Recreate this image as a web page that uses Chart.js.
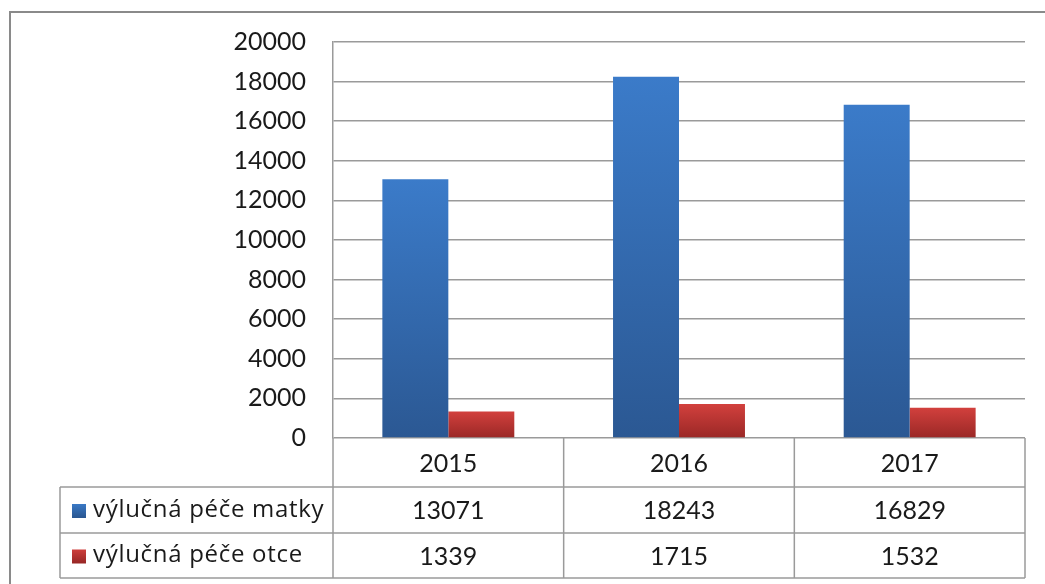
<!DOCTYPE html>
<html>
<head>
<meta charset="utf-8">
<script src="https://cdn.jsdelivr.net/npm/chart.js@4/dist/chart.umd.min.js"></script>
<style>
  html, body { margin: 0; padding: 0; background: #fff; }
  #wrap { width: 1045px; height: 584px; position: relative; }
</style>
</head>
<body>
<div id="wrap"><canvas id="c" width="1045" height="584"></canvas></div>
<script>
const years = ['2015', '2016', '2017'];
const seriesNames = ['výlučná péče matky', 'výlučná péče otce'];
const matka = [13071, 18243, 16829];
const otce = [1339, 1715, 1532];
const yTicks = [0, 2000, 4000, 6000, 8000, 10000, 12000, 14000, 16000, 18000, 20000];

const FONT = 'Lato, "Open Sans", sans-serif';
const LEGEND_FONT = '"Open Sans", Lato, sans-serif';
const BLUE = ['#3b7bc9', '#2b5893'];
const RED = ['#d2403d', '#9a2826'];

function barGradient(stops) {
  return (ctx) => {
    const chart = ctx.chart;
    const ys = chart.scales.y;
    if (!ys || ctx.raw === undefined) return stops[0];
    const top = ys.getPixelForValue(ctx.raw);
    const bottom = ys.getPixelForValue(0);
    if (!isFinite(top) || !isFinite(bottom) || top === bottom) return stops[0];
    const g = chart.ctx.createLinearGradient(0, top, 0, bottom);
    g.addColorStop(0, stops[0]);
    g.addColorStop(1, stops[1]);
    return g;
  };
}

const tablePlugin = {
  id: 'dataTable',
  afterDraw(chart) {
    const c = chart.ctx;
    const xs = chart.scales.x;
    const area = chart.chartArea;
    const n = years.length;
    const step = (area.right - area.left) / n;
    const colEdges = [];
    for (let i = 0; i <= n; i++) colEdges.push(area.left + step * i);
    const legendLeft = 60;
    const rowEdges = [area.bottom, area.bottom + 49, area.bottom + 95, area.bottom + 140];

    c.save();
    // outer frame
    c.strokeStyle = '#8a8a8a';
    c.lineWidth = 2;
    c.beginPath();
    c.moveTo(10, 584);
    c.lineTo(10, 12);
    c.lineTo(1045, 12);
    c.stroke();

    // table grid
    c.strokeStyle = '#9a9a9a';
    c.lineWidth = 1.5;
    c.beginPath();
    for (let r = 1; r < rowEdges.length; r++) {
      c.moveTo(legendLeft, rowEdges[r]);
      c.lineTo(colEdges[n], rowEdges[r]);
    }
    c.moveTo(legendLeft, rowEdges[1]);
    c.lineTo(legendLeft, rowEdges[3]);
    for (let i = 0; i <= n; i++) {
      c.moveTo(colEdges[i], rowEdges[0]);
      c.lineTo(colEdges[i], rowEdges[3]);
    }
    c.stroke();

    c.fillStyle = '#1a1a1a';
    c.font = '25px ' + FONT;
    c.textAlign = 'center';
    c.textBaseline = 'middle';
    const rowMid = (r) => (rowEdges[r] + rowEdges[r + 1]) / 2;
    years.forEach((yr, i) => {
      const cx = xs.getPixelForValue(i);
      c.fillText(yr, cx, rowMid(0) + 1);
      c.fillText(String(matka[i]), cx, rowMid(1) + 1);
      c.fillText(String(otce[i]), cx, rowMid(2) + 1);
    });

    // legend keys
    c.textAlign = 'left';
    c.font = '24px ' + LEGEND_FONT;
    if ('letterSpacing' in c) c.letterSpacing = '0.7px';
    const keys = [BLUE, RED];
    seriesNames.forEach((name, k) => {
      const my = rowMid(k + 1);
      const g = c.createLinearGradient(0, my - 7, 0, my + 7);
      g.addColorStop(0, keys[k][0]);
      g.addColorStop(1, keys[k][1]);
      c.fillStyle = g;
      c.fillRect(72, my - 6, 14, 14);
      c.fillStyle = '#1a1a1a';
      c.fillText(name, 93, my);
    });
    c.restore();
  }
};

new Chart(document.getElementById('c'), {
  type: 'bar',
  data: {
    labels: years,
    datasets: [
      { label: seriesNames[0], data: matka, backgroundColor: barGradient(BLUE), borderWidth: 0 },
      { label: seriesNames[1], data: otce, backgroundColor: barGradient(RED), borderWidth: 0 }
    ]
  },
  options: {
    responsive: false,
    animation: false,
    devicePixelRatio: 1,
    layout: { padding: { top: 42, right: 20, bottom: 146, left: 0 } },
    datasets: { bar: { barPercentage: 1.0, categoryPercentage: 0.572 } },
    plugins: { legend: { display: false }, tooltip: { enabled: false } },
    scales: {
      x: { display: false },
      y: {
        min: 0,
        max: 20000,
        afterFit(scale) { scale.width = 333; },
        afterBuildTicks(scale) { scale.ticks = yTicks.map(v => ({ value: v })); },
        grid: { color: '#9a9a9a', lineWidth: 1.5, drawTicks: false },
        border: { display: true, color: '#9a9a9a', width: 1.5 },
        ticks: {
          padding: 27,
          color: '#1a1a1a',
          font: { family: FONT, size: 25 },
          callback: (v) => String(v)
        }
      }
    }
  },
  plugins: [tablePlugin]
});
</script>
</body>
</html>
